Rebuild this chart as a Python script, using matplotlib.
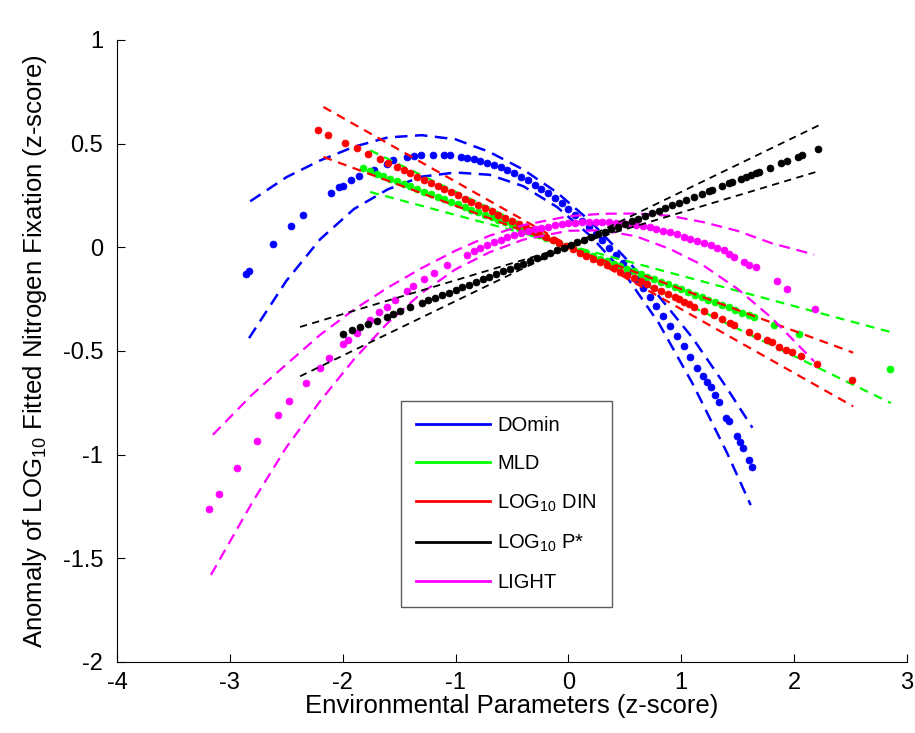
import matplotlib
matplotlib.use("Agg")
import matplotlib.pyplot as plt
from matplotlib.lines import Line2D

plt.rcParams['font.family'] = ['Liberation Sans', 'DejaVu Sans']
plt.rcParams['mathtext.default'] = 'regular'

# ---------------- data ----------------
series_names = ['DOmin', 'MLD', 'LOG$_{10}$ DIN', 'LOG$_{10}$ P*', 'LIGHT']
series_colors = ['#0000ff', '#00ff00', '#ff0000', '#000000', '#ff00ff']

# DOmin: fitted values (dots) and confidence bounds
domin_x = [-2.86, -2.83, -2.615, -2.46, -2.35, -2.104, -2.03, -2.0, -1.93, -1.856,
           -1.72, -1.61, -1.55, -1.43, -1.37, -1.31, -1.2, -1.1, -1.05, -0.95, -0.9,
           -0.84, -0.78, -0.72, -0.66, -0.60, -0.54, -0.48, -0.42, -0.36, -0.30,
           -0.24, -0.18, -0.12, -0.06, 0.00, 0.06, 0.12, 0.18, 0.24, 0.30, 0.36,
           0.42, 0.48, 0.54, 0.60, 0.66, 0.72, 0.78, 0.84, 0.90, 0.96, 1.02, 1.08,
           1.14, 1.19, 1.23, 1.26, 1.30, 1.334, 1.40, 1.42, 1.49, 1.52, 1.55, 1.60, 1.63]
domin_y = [-0.128, -0.113, 0.016, 0.101, 0.157, 0.262, 0.29, 0.298, 0.325, 0.342,
           0.374, 0.404, 0.42, 0.436, 0.44, 0.444, 0.447, 0.444, 0.444, 0.437, 0.431,
           0.426, 0.418, 0.409, 0.398, 0.386, 0.372, 0.357, 0.341, 0.323, 0.303,
           0.283, 0.261, 0.237, 0.212, 0.186, 0.158, 0.129, 0.098, 0.066, 0.033, -0.002,
           -0.038, -0.076, -0.115, -0.155, -0.197, -0.240, -0.285, -0.331, -0.379, -0.428, -0.478, -0.530,
           -0.58, -0.62, -0.65, -0.676, -0.71, -0.748, -0.822, -0.84, -0.91, -0.94, -0.97, -1.025, -1.058]
domin_hi_x = [-2.82, -2.5, -2.2, -1.9, -1.6, -1.3, -1.0, -0.7, -0.4, -0.1, 0.2, 0.5, 0.8, 1.1, 1.4, 1.63]
domin_hi_y = [0.222, 0.338, 0.419, 0.485, 0.530, 0.541, 0.521, 0.460, 0.375, 0.264, 0.123,
              -0.049, -0.235, -0.437, -0.675, -0.870]
domin_lo_x = [-2.83, -2.5, -2.2, -1.9, -1.6, -1.3, -1.0, -0.7, -0.4, -0.1, 0.2, 0.5, 0.8, 1.1, 1.4, 1.615]
domin_lo_y = [-0.438, -0.162, 0.039, 0.185, 0.280, 0.341, 0.361, 0.350, 0.295, 0.194, 0.053,
              -0.129, -0.365, -0.657, -0.985, -1.243]

# MLD
mld_x = [-1.82, -1.76, -1.70, -1.64, -1.58, -1.52, -1.46, -1.40, -1.34, -1.28, -1.22, -1.16,
         -1.10, -1.04, -0.98, -0.92, -0.86, -0.80, -0.74, -0.68, -0.62, -0.56, -0.50, -0.44,
         -0.38, -0.32, -0.26, -0.20, -0.14, -0.08, -0.02, 0.04, 0.10, 0.16, 0.22, 0.28, 0.34,
         0.40, 0.46, 0.52, 0.58, 0.64, 0.70, 0.76, 0.82, 0.88, 0.94, 1.00, 1.06, 1.12, 1.18,
         1.24, 1.30, 1.36, 1.42, 1.48, 1.54, 1.60, 1.64, 1.82, 2.04, 2.85]
mld_y = [0.381, 0.368, 0.356, 0.343, 0.331, 0.319, 0.306, 0.294, 0.281, 0.269, 0.257, 0.244,
         0.232, 0.219, 0.207, 0.194, 0.182, 0.170, 0.157, 0.145, 0.132, 0.120, 0.108, 0.095,
         0.083, 0.070, 0.058, 0.045, 0.033, 0.021, 0.008, -0.004, -0.017, -0.029, -0.042, -0.054, -0.066,
         -0.079, -0.091, -0.104, -0.116, -0.128, -0.141, -0.153, -0.166, -0.178, -0.191, -0.203, -0.215, -0.228, -0.240,
         -0.253, -0.265, -0.278, -0.290, -0.302, -0.315, -0.327, -0.335, -0.373, -0.418, -0.586]
mld_b1_x = [-1.757, 2.857]
mld_b1_y = [0.468, -0.751]
mld_b2_x = [-1.757, 2.857]
mld_b2_y = [0.267, -0.409]

# LOG10 DIN
din_x = [-2.216, -2.132, -1.979, -1.875, -1.772, -1.668, -1.6, -1.52,
         -1.46, -1.40, -1.34, -1.28, -1.22, -1.16, -1.10, -1.04, -0.98, -0.92, -0.86, -0.80,
         -0.74, -0.68, -0.62, -0.56, -0.50, -0.44, -0.38, -0.32, -0.26, -0.20, -0.14, -0.08,
         -0.02, 0.04, 0.10, 0.16, 0.22, 0.28, 0.34, 0.40, 0.46, 0.52, 0.58, 0.64, 0.70, 0.76,
         0.82, 0.88, 0.94, 0.98,
         1.023, 1.07, 1.112, 1.2, 1.29, 1.364, 1.43, 1.467, 1.6, 1.674, 1.763, 1.8, 1.866,
         1.925, 1.985, 2.059, 2.2, 2.517]
din_y = [0.564, 0.544, 0.505, 0.481, 0.452, 0.425, 0.408, 0.387,
         0.372, 0.357, 0.341, 0.326, 0.311, 0.296, 0.280, 0.265, 0.250, 0.234, 0.219, 0.204,
         0.189, 0.173, 0.158, 0.143, 0.127, 0.112, 0.097, 0.082, 0.066, 0.051, 0.036, 0.020,
         0.005, -0.010, -0.025, -0.041, -0.056, -0.071, -0.087, -0.102, -0.117, -0.132, -0.148, -0.163, -0.178, -0.194,
         -0.209, -0.224, -0.240, -0.250,
         -0.264, -0.273, -0.288, -0.306, -0.328, -0.344, -0.364, -0.376, -0.408, -0.428, -0.449, -0.459, -0.481,
         -0.494, -0.505, -0.524, -0.561, -0.642]
din_b1_x = [-2.171, 2.523]
din_b1_y = [0.677, -0.767]
din_b2_x = [-2.171, 2.523]
din_b2_y = [0.436, -0.508]

# LOG10 P*
p_x = [-1.994, -1.92, -1.846, -1.772, -1.698, -1.609, -1.55, -1.49, -1.4,
       -1.30, -1.24, -1.18, -1.12, -1.06, -1.00, -0.94, -0.88, -0.82, -0.76, -0.70, -0.64,
       -0.58, -0.52, -0.46, -0.40, -0.34, -0.28, -0.22, -0.16, -0.10, -0.04, 0.02, 0.08,
       0.14, 0.20, 0.26, 0.32, 0.38, 0.44, 0.50, 0.56, 0.62, 0.68, 0.74, 0.80, 0.86, 0.92,
       0.98, 1.04,
       1.112, 1.186, 1.245, 1.275, 1.364, 1.42, 1.452, 1.526, 1.57, 1.615, 1.66, 1.689,
       1.783, 1.88, 1.94, 2.03, 2.07, 2.207]
p_y = [-0.416, -0.400, -0.384, -0.369, -0.353, -0.334, -0.322, -0.309, -0.290,
       -0.269, -0.256, -0.243, -0.230, -0.218, -0.205, -0.192, -0.180, -0.167, -0.154, -0.141, -0.129,
       -0.116, -0.103, -0.091, -0.078, -0.065, -0.052, -0.040, -0.027, -0.014, -0.001, 0.011, 0.024,
       0.037, 0.049, 0.062, 0.075, 0.088, 0.100, 0.113, 0.126, 0.138, 0.151, 0.164, 0.177, 0.189, 0.202,
       0.215, 0.227,
       0.243, 0.258, 0.271, 0.277, 0.296, 0.308, 0.315, 0.331, 0.340, 0.349, 0.359, 0.365,
       0.385, 0.406, 0.418, 0.437, 0.446, 0.475]
p_b1_x = [-2.378, 2.221]
p_b1_y = [-0.622, 0.589]
p_b2_x = [-2.378, 2.221]
p_b2_y = [-0.384, 0.368]

# LIGHT
light_x = [-3.183, -3.097, -2.934, -2.757, -2.57, -2.473, -2.325, -2.2, -2.118, -1.994,
           -1.949, -1.875, -1.757, -1.677, -1.609, -1.535, -1.432, -1.373, -1.284, -1.195,
           -1.076, -0.899,
           -0.84, -0.78, -0.72, -0.66, -0.60, -0.54, -0.48, -0.42, -0.36, -0.30, -0.24, -0.18,
           -0.12, -0.06, 0.00, 0.06, 0.12, 0.18, 0.24, 0.30, 0.36, 0.42, 0.48, 0.54, 0.60,
           0.66, 0.72, 0.78, 0.84, 0.90, 0.96, 1.02, 1.08, 1.14,
           1.2, 1.26, 1.32, 1.378, 1.42, 1.467, 1.556, 1.6, 1.66, 1.852, 1.94, 2.186]
light_y = [-1.26, -1.188, -1.063, -0.934, -0.81, -0.743, -0.653, -0.58, -0.534, -0.468,
           -0.445, -0.412, -0.352, -0.312, -0.288, -0.252, -0.210, -0.187, -0.154, -0.123,
           -0.084, -0.036,
           -0.017, -0.002, 0.012, 0.025, 0.037, 0.049, 0.060, 0.069, 0.078, 0.087, 0.094, 0.100,
           0.106, 0.111, 0.115, 0.118, 0.120, 0.121, 0.122, 0.122, 0.121, 0.119, 0.116, 0.112, 0.108,
           0.102, 0.096, 0.089, 0.081, 0.072, 0.063, 0.052, 0.041, 0.029,
           0.022, 0.01, -0.002, -0.015, -0.03, -0.045, -0.071, -0.083, -0.095, -0.164, -0.2, -0.299]
light_hi_x = [-3.15, -2.8, -2.5, -2.2, -1.9, -1.6, -1.3, -1.0, -0.7, -0.4, 0.0, 0.3, 0.6,
              0.9, 1.2, 1.5, 1.8, 2.177]
light_hi_y = [-0.904, -0.709, -0.565, -0.422, -0.300, -0.194, -0.100, -0.016, 0.056, 0.107,
              0.150, 0.162, 0.163, 0.152, 0.121, 0.079, 0.020, -0.035]
light_lo_x = [-3.168, -2.8, -2.5, -2.2, -1.9, -1.6, -1.3, -1.0, -0.7, -0.4, 0.0, 0.3, 0.6,
              0.9, 1.2, 1.5, 1.8, 2.177]
light_lo_y = [-1.58, -1.229, -0.965, -0.742, -0.540, -0.364, -0.220, -0.106, -0.024, 0.037,
              0.080, 0.082, 0.053, -0.008, -0.089, -0.201, -0.340, -0.55]

x_ticks = [-4, -3, -2, -1, 0, 1, 2, 3]
x_tick_labels = ['-4', '-3', '-2', '-1', '0', '1', '2', '3']
y_ticks = [-2, -1.5, -1, -0.5, 0, 0.5, 1]
y_tick_labels = ['-2', '-1.5', '-1', '-0.5', '0', '0.5', '1']

# ---------------- figure ----------------
fig = plt.figure(figsize=(9.15, 7.33), dpi=100)
ax = fig.add_axes([117 / 915, 71 / 733, 790 / 915, 622 / 733])

ms = 5.0

def draw(dots, bounds, color, z, lw=1.6, ls=(0, (5, 3))):
    for bx, by in bounds:
        ax.plot(bx, by, color=color, lw=lw, linestyle=ls, zorder=z)
    ax.plot(dots[0], dots[1], linestyle='none', marker='o', ms=ms, mfc=color,
            mec=color, mew=0.5, zorder=z + 0.5)

draw((domin_x, domin_y), [(domin_hi_x, domin_hi_y), (domin_lo_x, domin_lo_y)],
     series_colors[0], 2, lw=1.8, ls=(0, (5, 3)))
draw((mld_x, mld_y), [(mld_b1_x, mld_b1_y), (mld_b2_x, mld_b2_y)],
     series_colors[1], 3, ls=(0, (4, 3)))
draw((din_x, din_y), [(din_b1_x, din_b1_y), (din_b2_x, din_b2_y)],
     series_colors[2], 4, ls=(0, (4, 3)))
draw((light_x, light_y), [(light_hi_x, light_hi_y), (light_lo_x, light_lo_y)],
     series_colors[4], 5, ls=(0, (5, 3)))
draw((p_x, p_y), [(p_b1_x, p_b1_y), (p_b2_x, p_b2_y)],
     series_colors[3], 6, lw=1.3, ls=(0, (4, 3)))

ax.set_xlim(-4, 3)
ax.set_ylim(-2, 1)
ax.set_xticks(x_ticks)
ax.set_xticklabels(x_tick_labels)
ax.set_yticks(y_ticks)
ax.set_yticklabels(y_tick_labels)
ax.tick_params(direction='in', length=6, width=0.8, labelsize=17,
               top=False, right=False)
ax.tick_params(axis='x', pad=7)
ax.tick_params(axis='y', pad=10)
for side in ('top', 'right'):
    ax.spines[side].set_visible(False)
for side in ('left', 'bottom'):
    ax.spines[side].set_linewidth(0.8)

ax.set_xlabel('Environmental Parameters (z-score)', fontsize=18.5, labelpad=0)
ax.set_ylabel('Anomaly of LOG$_{10}$ Fitted Nitrogen Fixation (z-score)',
              fontsize=18.5, labelpad=10)

handles = [Line2D([0], [0], color=c, lw=2) for c in series_colors]
leg = ax.legend(handles, series_names, loc='lower left',
                bbox_to_anchor=(0.359, 0.088), fontsize=14.5, frameon=True,
                fancybox=False, edgecolor='#333333', handlelength=3.7,
                handletextpad=0.35, borderpad=0.75, labelspacing=0.95,
                borderaxespad=0)
leg.get_frame().set_linewidth(1.0)

fig.savefig('out.png', dpi=100, facecolor='white')
